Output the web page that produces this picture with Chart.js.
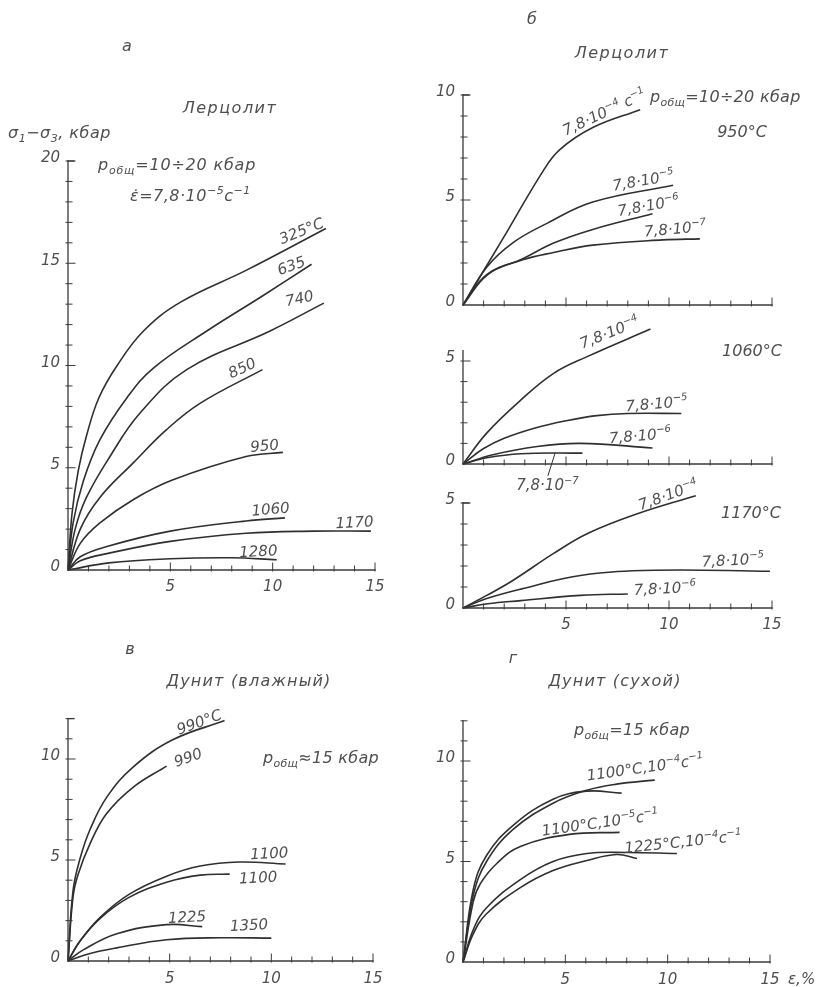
<!DOCTYPE html>
<html>
<head>
<meta charset="utf-8">
<script src="https://cdn.jsdelivr.net/npm/chart.js@4"></script>
<style>
  html, body { margin: 0; padding: 0; background: #fff; }
  #wrap { position: relative; width: 825px; height: 987px; overflow: hidden; background: #fff; }
  #wrap canvas { position: absolute; left: 0; top: 0; }
</style>
</head>
<body>
<div id="wrap">
  <canvas id="cA" width="825" height="987"></canvas>
  <canvas id="cB1" width="825" height="987"></canvas>
  <canvas id="cB2" width="825" height="987"></canvas>
  <canvas id="cB3" width="825" height="987"></canvas>
  <canvas id="cV" width="825" height="987"></canvas>
  <canvas id="cG" width="825" height="987"></canvas>
</div>
<script>
// ===== Stress–strain curves: σ1−σ3 (kbar) against strain ε (%) =====

// а — lherzolite, ε̇ = 7.8·10⁻⁵ s⁻¹, one curve per temperature
const a325  = [[0,0],[0.2,2.8],[0.5,4.85],[0.9,6.55],[1.5,8.4],[2.4,10.0],[3.7,11.7],[5.5,13.1],[8.7,14.65],[12.6,16.7]];
const a635  = [[0,0],[0.25,2.3],[0.75,4.35],[1.55,6.35],[2.9,8.45],[4.2,9.9],[6.8,11.7],[9.5,13.4],[11.9,14.95]];
const a740  = [[0,0],[0.35,2.0],[0.9,3.55],[2.05,5.55],[3.5,7.65],[5.8,9.8],[9.9,11.7],[12.5,13.05]];
const a850  = [[0,0],[0.6,2.0],[1.56,3.55],[3.2,5.25],[4.8,6.85],[6.45,8.15],[9.5,9.8]];
const a950  = [[0,0],[0.6,1.3],[1.56,2.3],[3.2,3.45],[5.1,4.4],[8.7,5.55],[10.5,5.75]];
const a1060 = [[0,0],[0.6,0.65],[1.9,1.15],[5,1.9],[8.7,2.4],[10.6,2.55]];
const a1170 = [[0,0],[0.6,0.45],[1.9,0.8],[5,1.4],[8.7,1.8],[12,1.9],[14.8,1.9]];
const a1280 = [[0,0],[2,0.35],[5,0.55],[8,0.6],[10.2,0.5]];
const aNames = ['325°C', '635', '740', '850', '950', '1060', '1170', '1280'];

// б — lherzolite at 950, 1060 and 1170 °C, one curve per strain rate
const b950_4  = [[0,0],[1.9,3.1],[3.9,6.4],[4.7,7.4],[6.3,8.45],[8.6,9.3]];
const b950_5  = [[0,0],[1.15,1.8],[2.4,2.95],[4.1,3.9],[6.3,4.9],[10.2,5.7]];
const b950_6  = [[0,0],[1.2,1.45],[2.9,2.2],[4.4,2.95],[6.3,3.6],[9.2,4.35]];
const b950_7  = [[0,0],[1.15,1.45],[2.9,2.15],[4.4,2.5],[6.3,2.85],[9.7,3.1],[11.5,3.15]];
const b1060_4 = [[0,0],[1.15,1.5],[2.8,3.1],[4.4,4.4],[6.0,5.2],[9.1,6.55]];
const b1060_5 = [[0,0],[1.0,0.75],[2.0,1.25],[3.5,1.75],[5,2.1],[6.5,2.35],[8,2.45],[10.6,2.45]];
const b1060_6 = [[0,0],[1.45,0.45],[3.6,0.85],[5.7,1.0],[9.2,0.78]];
const b1060_7 = [[0,0],[1.15,0.3],[2.8,0.5],[5.8,0.53]];
const b1170_4 = [[0,0],[1.15,0.6],[2.4,1.3],[4.4,2.6],[6.05,3.55],[8.5,4.5],[11.3,5.35]];
const b1170_5 = [[0,0],[1.15,0.45],[2.8,0.9],[5.7,1.55],[9.3,1.8],[14.9,1.75]];
const b1170_6 = [[0,0],[1.2,0.2],[2.8,0.35],[5.7,0.6],[8,0.67]];
const b950Names  = ['7,8·10^{−4} с^{−1}', '7,8·10^{−5}', '7,8·10^{−6}', '7,8·10^{−7}'];
const b1060Names = ['7,8·10^{−4}', '7,8·10^{−5}', '7,8·10^{−6}', '7,8·10^{−7}'];
const b1170Names = ['7,8·10^{−4}', '7,8·10^{−5}', '7,8·10^{−6}'];

// в — wet dunite
const v990a  = [[0,0],[0.25,3.5],[0.6,5.1],[1.08,6.5],[1.9,8.1],[3.2,9.6],[5.15,10.95],[7.7,11.9]];
const v990b  = [[0,0],[0.25,3.2],[0.5,4.3],[1.08,5.8],[1.9,7.3],[3.2,8.6],[4.85,9.65]];
const v1100a = [[0,0],[0.6,1.0],[1.57,2.15],[3,3.3],[4.85,4.2],[6.5,4.7],[8.4,4.9],[10.7,4.8]];
const v1100b = [[0,0],[0.6,1.0],[1.57,2.1],[3,3.15],[4.85,3.9],[6.5,4.25],[7.95,4.3]];
const v1225  = [[0,0],[0.75,0.55],[2.4,1.35],[4.85,1.8],[6.6,1.7]];
const v1350  = [[0,0],[1,0.35],[2.4,0.65],[4.85,1.05],[7.5,1.15],[10,1.13]];
const vNames = ['990°C', '990', '1100', '1100', '1225', '1350'];

// г — dry dunite
const g1100_4a = [[0,0],[0.5,3.3],[1.15,5.0],[2.45,6.6],[4.4,7.9],[6.05,8.55],[7.5,8.85],[9.37,9.05]];
const g1100_4b = [[0,0],[0.5,3.6],[1.15,5.3],[2.45,6.8],[4.4,8.1],[6.05,8.5],[7.75,8.4]];
const g1100_5  = [[0,0],[0.5,3.0],[0.85,3.9],[1.65,4.9],[2.8,5.75],[5.2,6.35],[7.65,6.45]];
const g1225_4a = [[0,0],[0.5,1.6],[1.15,2.7],[2.8,4.1],[4.4,5.0],[6.05,5.4],[8,5.45],[10.45,5.4]];
const g1225_4b = [[0,0],[0.5,1.4],[1.15,2.4],[2.8,3.7],[4.4,4.55],[6.05,5.05],[7.5,5.35],[8.5,5.15]];
const gNames = ['1100°C,10^{−4}с^{−1}', '1100°C,10^{−5}с^{−1}', '1225°C,10^{−4}с^{−1}'];

// tick labels
const xTickLabels = [5, 10, 15];
const yTicksA  = [0, 5, 10, 15, 20];
const yTicksB1 = [0, 5, 10];
const yTicksB2 = [0, 5];
const yTicksB3 = [0, 5];
const yTicksV  = [0, 5, 10];
const yTicksG  = [0, 5, 10];

// ===== drawing helpers =====
const INK = '#2f2f2f';
const TEXT = '#4f4f4f';
const FONT = '"DejaVu Sans", "Liberation Sans", sans-serif';

// text with ^{…} superscripts and _{…} subscripts
function runs(str) {
  const out = [];
  let i = 0, buf = '';
  while (i < str.length) {
    const c = str[i];
    if ((c === '^' || c === '_') && str[i + 1] === '{') {
      if (buf) { out.push({ t: buf, m: 'n' }); buf = ''; }
      const end = str.indexOf('}', i);
      out.push({ t: str.slice(i + 2, end), m: c === '^' ? 'sup' : 'sub' });
      i = end + 1;
    } else { buf += c; i++; }
  }
  if (buf) out.push({ t: buf, m: 'n' });
  return out;
}

function drawRich(ctx, str, x, y, o) {
  const size = o.size || 15;
  const sp = o.spacing || 0;
  const parts = runs(str);
  ctx.save();
  ctx.translate(x, y);
  if (o.rot) ctx.rotate(o.rot * Math.PI / 180);
  ctx.fillStyle = o.color || TEXT;
  ctx.textBaseline = 'alphabetic';
  ctx.textAlign = 'left';
  ctx.letterSpacing = sp + 'px';
  const fontFor = m => `italic ${m === 'n' ? size : Math.round(size * 0.68)}px ${FONT}`;
  let w = 0;
  parts.forEach(p => { ctx.font = fontFor(p.m); p.w = ctx.measureText(p.t).width; w += p.w; });
  let cx = o.align === 'left' ? 0 : (o.align === 'right' ? -w : -w / 2);
  const base = size * 0.36;
  parts.forEach(p => {
    ctx.font = fontFor(p.m);
    const dy = p.m === 'sup' ? -size * 0.42 : (p.m === 'sub' ? size * 0.28 : 0);
    ctx.fillText(p.t, cx, base + dy);
    cx += p.w;
  });
  ctx.restore();
}

function seg(ctx, x1, y1, x2, y2) {
  ctx.beginPath(); ctx.moveTo(x1, y1); ctx.lineTo(x2, y2); ctx.stroke();
}

// axes, ticks, tick labels and curve captions for one panel
function decoPlugin(p) {
  return {
    id: 'deco',
    afterDatasetsDraw(chart) {
      const ctx = chart.ctx;
      const X = v => chart.scales.x.getPixelForValue(v);
      const Y = v => chart.scales.y.getPixelForValue(v);
      ctx.save();
      ctx.strokeStyle = '#3a3a3a';
      ctx.lineWidth = 1.3;
      ctx.lineCap = 'square';
      const x0 = X(0), y0 = Y(0);
      seg(ctx, x0, y0, x0, Y(p.yMax));
      if (p.cap) seg(ctx, x0, Y(p.yMax), x0 + 6, Y(p.yMax));
      seg(ctx, x0, y0, X(15), y0);
      ctx.lineWidth = 1;
      for (let v = 1; v <= Math.floor(p.yMax); v++) {
        const len = v % 5 === 0 ? 7 : 4;
        seg(ctx, x0 - 2, Y(v), x0 + len, Y(v));
      }
      for (let v = 1; v <= 15; v++) {
        const len = v % 5 === 0 ? 7 : 4;
        seg(ctx, X(v), y0 + 1, X(v), y0 - len);
      }
      p.yTicks.forEach(v => drawRich(ctx, String(v), x0 - 8, Y(v) - 4, { size: 15, align: 'right' }));
      if (p.xLabels) xTickLabels.forEach(v => drawRich(ctx, String(v), X(v), y0 + p.xLabelGap, { size: 15 }));
      p.names.forEach((n, i) => {
        const q = p.namePos[i];
        drawRich(ctx, n, X(q[0]), Y(q[1]), { size: 15, rot: q[2] || 0 });
      });
      (p.texts || []).forEach(t => drawRich(ctx, t.s, t.x, t.y, t));
      if (p.leader) {
        ctx.strokeStyle = INK; ctx.lineWidth = 1;
        seg(ctx, X(p.leader[0]), Y(p.leader[1]), X(p.leader[2]), Y(p.leader[3]));
      }
      ctx.restore();
    }
  };
}

function makePanel(id, p) {
  const r = p.rect;
  new Chart(document.getElementById(id), {
    type: 'line',
    data: {
      datasets: p.curves.map(c => ({
        data: c.map(([x, y]) => ({ x, y })),
        borderColor: INK,
        borderWidth: 1.6,
        pointRadius: 0,
        fill: false,
        tension: 0.4,
        clip: false
      }))
    },
    options: {
      responsive: false,
      animation: false,
      devicePixelRatio: 1,
      events: [],
      layout: { padding: { left: r.x0, right: 825 - r.x15, top: r.yTop, bottom: 987 - r.y0 } },
      plugins: { legend: { display: false }, tooltip: { enabled: false }, title: { display: false } },
      scales: {
        x: { type: 'linear', min: 0, max: 15, display: false },
        y: { type: 'linear', min: 0, max: p.yMax, display: false }
      }
    },
    plugins: [decoPlugin(p)]
  });
}

// ===== panels =====
makePanel('cA', {
  rect: { x0: 68, x15: 375, y0: 570, yTop: 161 }, yMax: 20, cap: true,
  curves: [a325, a635, a740, a850, a950, a1060, a1170, a1280],
  names: aNames,
  namePos: [[11.4,16.6,-22],[10.9,14.9,-20],[11.3,13.3,-12],[8.5,9.9,-25],[9.6,6.1,-5],[9.9,3.0,-5],[14.0,2.35,-3],[9.3,0.93,-3]],
  yTicks: yTicksA, xLabels: true, xLabelGap: 16,
  texts: [
    { s: 'а', x: 127, y: 45, size: 16 },
    { s: 'Лерцолит', x: 230, y: 107, size: 16, spacing: 1.5 },
    { s: 'σ_{1}−σ_{3}, кбар', x: 8, y: 132, size: 16, align: 'left', spacing: 0.5 },
    { s: 'p_{общ}=10÷20 кбар', x: 98, y: 164, size: 16, align: 'left', spacing: 0.8 },
    { s: 'ε\u0307=7,8·10^{−5}с^{−1}', x: 130, y: 195, size: 16, align: 'left', spacing: 0.5 }
  ]
});

makePanel('cB1', {
  rect: { x0: 463, x15: 772, y0: 305, yTop: 95 }, yMax: 10, cap: true,
  curves: [b950_4, b950_5, b950_6, b950_7],
  names: b950Names,
  namePos: [[6.85,9.2,-25],[8.75,5.95,-10],[9.0,4.75,-10],[10.3,3.65,-5]],
  yTicks: yTicksB1, xLabels: false,
  texts: [
    { s: 'б', x: 532, y: 18, size: 16 },
    { s: 'Лерцолит', x: 622, y: 52, size: 16, spacing: 1.5 },
    { s: 'p_{общ}=10÷20 кбар', x: 650, y: 96, size: 16, align: 'left', spacing: 0.3 },
    { s: '950°C', x: 742, y: 131, size: 16 }
  ]
});

makePanel('cB2', {
  rect: { x0: 463, x15: 772, y0: 464, yTop: 350.7 }, yMax: 5.5, cap: false,
  curves: [b1060_4, b1060_5, b1060_6, b1060_7],
  names: b1060Names,
  namePos: [[7.1,6.4,-22],[9.4,2.95,-5],[8.6,1.4,-5],[4.1,-1.0,0]],
  yTicks: yTicksB2, xLabels: false,
  leader: [4.47, 0.53, 4.13, -0.55],
  texts: [ { s: '1060°C', x: 752, y: 350, size: 16 } ]
});

makePanel('cB3', {
  rect: { x0: 463, x15: 772, y0: 608, yTop: 503 }, yMax: 5, cap: true,
  curves: [b1170_4, b1170_5, b1170_6],
  names: b1170Names,
  namePos: [[9.95,5.4,-20],[13.1,2.3,-3],[9.8,0.95,-3]],
  yTicks: yTicksB3, xLabels: true, xLabelGap: 16,
  texts: [ { s: '1170°C', x: 751, y: 512, size: 16 } ]
});

makePanel('cV', {
  rect: { x0: 68, x15: 373, y0: 961, yTop: 718.6 }, yMax: 12, cap: true,
  curves: [v990a, v990b, v1100a, v1100b, v1225, v1350],
  names: vNames,
  namePos: [[6.45,11.85,-20],[5.9,10.1,-20],[9.9,5.35,-3],[9.35,4.15,-3],[5.85,2.2,-3],[8.9,1.8,-3]],
  yTicks: yTicksV, xLabels: true, xLabelGap: 17,
  texts: [
    { s: 'в', x: 130, y: 648, size: 16 },
    { s: 'Дунит (влажный)', x: 249, y: 680, size: 16, spacing: 1.2 },
    { s: 'p_{общ}≈15 кбар', x: 321, y: 757, size: 16, spacing: 0.3 }
  ]
});

makePanel('cG', {
  rect: { x0: 463, x15: 770, y0: 962, yTop: 720.8 }, yMax: 12, cap: false,
  curves: [g1100_4a, g1100_4b, g1100_5, g1225_4a, g1225_4b],
  names: gNames,
  namePos: [[8.9,9.7,-8],[6.7,6.95,-8],[10.75,6.0,-6]],
  yTicks: yTicksG, xLabels: true, xLabelGap: 17,
  texts: [
    { s: 'г', x: 513, y: 657, size: 16 },
    { s: 'Дунит (сухой)', x: 615, y: 680, size: 16, spacing: 1.2 },
    { s: 'p_{общ}=15 кбар', x: 632, y: 729, size: 16, spacing: 0.3 },
    { s: 'ε,%', x: 788, y: 979, size: 15, align: 'left' }
  ]
});
</script>
</body>
</html>
